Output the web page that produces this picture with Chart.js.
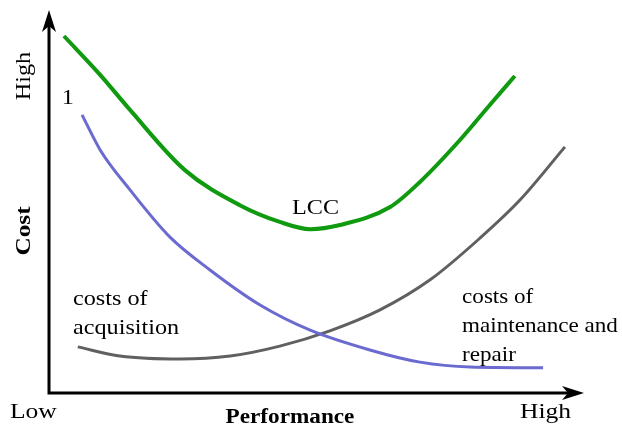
<!DOCTYPE html>
<html lang="en">
<head>
    <meta charset="UTF-8">
    <title>Life Cycle Cost vs Performance</title>
    <script src="https://cdn.jsdelivr.net/npm/chart.js"></script>
    <style>
        body { margin: 0; background: #ffffff; }
        #wrap { width: 622px; height: 430px; }
    </style>
</head>
<body>
    <div id="wrap"><canvas id="lccChart" width="622" height="430"></canvas></div>
    <script>
        // performance (x) and cost (y) on a 0-100 scale
        const lccX = [2.8, 9.6, 15.2, 25.5, 35.8, 43.3, 49.0, 54.6, 64.0, 69.6, 77.1, 82.7, 87.4];
        const lccY = [93.7, 83.5, 74.3, 58.5, 49.3, 44.9, 43.0, 44.1, 48.8, 55.4, 66.4, 75.6, 83.2];
        const acqX = [6.2, 9.6, 15.2, 22.7, 30.2, 39.6, 49.0, 60.2, 69.6, 79.0, 92.7];
        const acqY = [73.0, 63.8, 53.3, 40.9, 32.3, 23.1, 16.5, 11.3, 8.1, 6.8, 6.6];
        const maintX = [5.4, 13.3, 24.6, 34.0, 43.3, 52.7, 62.1, 71.5, 80.9, 88.4, 96.8];
        const maintY = [12.1, 9.7, 8.9, 9.7, 12.3, 16.3, 21.8, 29.7, 40.7, 50.7, 64.6];

        const seriesNames = ['LCC', 'costs of acquisition', 'costs of maintenance and repair'];

        function toPoints(xs, ys) {
            return xs.map((x, i) => ({ x: x, y: ys[i] }));
        }

        // text placed in data units
        const notes = [
            { lines: ['1'], x: 2.4, y: 77.4, sx: 1.1 },
            { lines: ['LCC'], x: 45.6, y: 48.5, sx: 1.1 },
            { lines: ['costs of', 'acquisition'], x: 4.5, y: 24.7, sx: 1.1 },
            { lines: ['costs of', 'maintenance and', 'repair'], x: 77.5, y: 25.2, sx: 1.05 }
        ];

        const serif = '"Liberation Serif", "Times New Roman", serif';

        function wideText(c, text, x, y, font, sx) {
            c.save();
            c.translate(x, y);
            c.scale(sx, 1);
            c.font = font;
            c.fillText(text, 0, 0);
            c.restore();
        }

        const decorations = {
            id: 'decorations',
            afterDraw(chart) {
                const c = chart.ctx;
                const a = chart.chartArea;
                const xs = chart.scales.x, ys = chart.scales.y;
                c.save();
                c.strokeStyle = '#000';
                c.fillStyle = '#000';
                c.lineWidth = 3;
                // axes
                c.beginPath();
                c.moveTo(a.left, a.top + 14);
                c.lineTo(a.left, a.bottom);
                c.lineTo(a.right - 14, a.bottom);
                c.stroke();
                // arrow heads
                c.beginPath();
                c.moveTo(a.left, a.top - 2);
                c.lineTo(a.left - 7, a.top + 20);
                c.lineTo(a.left, a.top + 14);
                c.lineTo(a.left + 7, a.top + 20);
                c.closePath();
                c.fill();
                c.beginPath();
                c.moveTo(a.right + 2, a.bottom);
                c.lineTo(a.right - 20, a.bottom - 7);
                c.lineTo(a.right - 14, a.bottom);
                c.lineTo(a.right - 20, a.bottom + 7);
                c.closePath();
                c.fill();

                // axis words
                c.textBaseline = 'middle';
                c.textAlign = 'left';
                wideText(c, 'Low', 10, 412, '22px ' + serif, 1.16);
                wideText(c, 'High', 520, 412, '22px ' + serif, 1.16);
                c.textAlign = 'center';
                wideText(c, 'Performance', 290, 418, 'bold 20px ' + serif, 1.16);

                c.save();
                c.translate(24, 76);
                c.rotate(-Math.PI / 2);
                wideText(c, 'High', 0, 0, '22px ' + serif, 1.1);
                c.restore();
                c.save();
                c.translate(24, 231);
                c.rotate(-Math.PI / 2);
                wideText(c, 'Cost', 0, 0, 'bold 22px ' + serif, 1.15);
                c.restore();

                // curve labels
                c.textAlign = 'left';
                notes.forEach(n => {
                    const px = xs.getPixelForValue(n.x);
                    const py = ys.getPixelForValue(n.y);
                    n.lines.forEach((t, i) => {
                        wideText(c, t, px, py + i * 29, '22px ' + serif, n.sx);
                    });
                });
                c.restore();
            }
        };

        new Chart(document.getElementById('lccChart'), {
            type: 'scatter',
            data: {
                datasets: [
                    { label: seriesNames[0], data: toPoints(lccX, lccY), borderColor: '#0f9a0f', borderWidth: 4 },
                    { label: seriesNames[1], data: toPoints(acqX, acqY), borderColor: '#6a6ad0', borderWidth: 3 },
                    { label: seriesNames[2], data: toPoints(maintX, maintY), borderColor: '#606060', borderWidth: 3 }
                ].map(d => Object.assign(d, {
                    showLine: true,
                    pointRadius: 0,
                    tension: 0.4,
                    cubicInterpolationMode: 'monotone',
                    fill: false
                }))
            },
            options: {
                responsive: false,
                animation: false,
                layout: { padding: { left: 49, right: 40, top: 12, bottom: 37 } },
                plugins: {
                    legend: { display: false },
                    tooltip: { enabled: false }
                },
                scales: {
                    x: { type: 'linear', min: 0, max: 100, display: false },
                    y: { type: 'linear', min: 0, max: 100, display: false }
                }
            },
            plugins: [decorations]
        });
    </script>
</body>
</html>
